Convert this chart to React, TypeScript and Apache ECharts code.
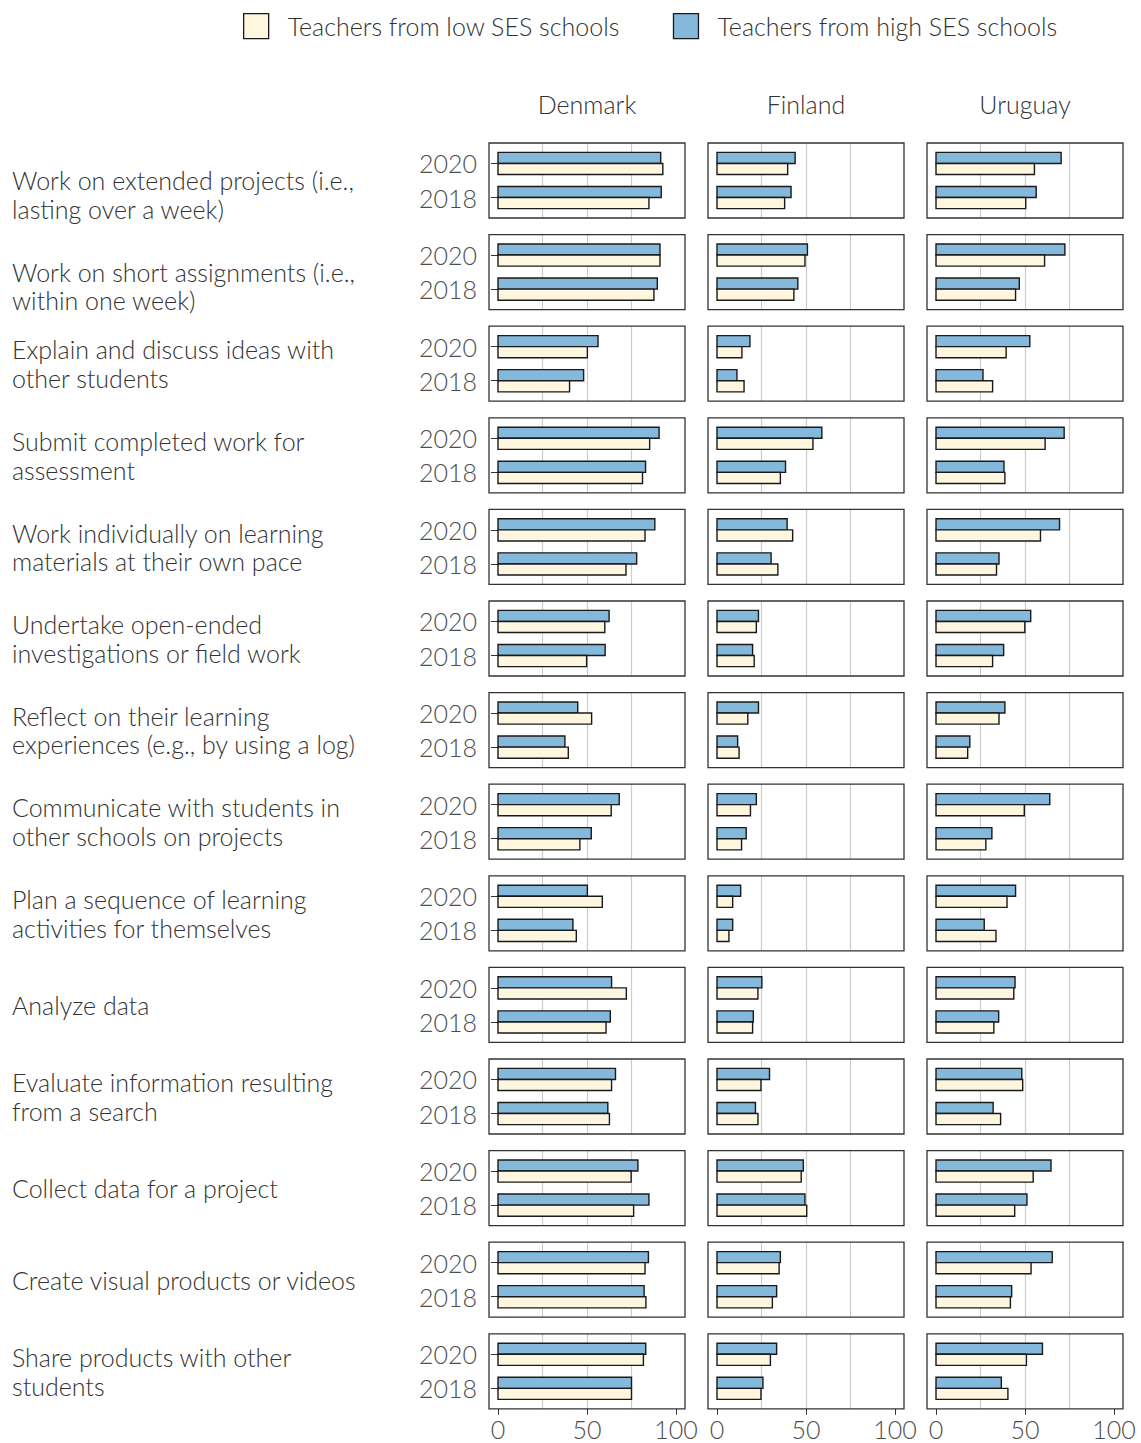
import React, { useEffect, useRef } from "react";
import * as echarts from "echarts";

const activities = [
  "Work on extended projects (i.e.,\nlasting over a week)",
  "Work on short assignments (i.e.,\nwithin one week)",
  "Explain and discuss ideas with\nother students",
  "Submit completed work for\nassessment",
  "Work individually on learning\nmaterials at their own pace",
  "Undertake open-ended\ninvestigations or field work",
  "Reflect on their learning\nexperiences (e.g., by using a log)",
  "Communicate with students in\nother schools on projects",
  "Plan a sequence of learning\nactivities for themselves",
  "Analyze data",
  "Evaluate information resulting\nfrom a search",
  "Collect data for a project",
  "Create visual products or videos",
  "Share products with other\nstudents",
];
const countries = ["Denmark", "Finland", "Uruguay"];
const yearLabels = ["2018", "2020"];
const xMin = 0;
const xMax = 100;
const xTickStep = 50;
const LOW = "Teachers from low SES schools";
const HIGH = "Teachers from high SES schools";

const denmarkHigh2020 = [91.4, 91, 56.2, 90.5, 88.1, 62.4, 44.8, 68.1, 50.2, 63.8, 66, 78.6, 84.5, 83];
const denmarkLow2020 = [92.6, 91, 50.2, 85.2, 82.6, 60, 52.6, 63.6, 58.6, 72.1, 63.8, 74.8, 82.6, 81.7];
const denmarkHigh2018 = [91.7, 89.5, 48.1, 82.9, 77.9, 60.2, 37.6, 52.4, 42.1, 63.1, 61.7, 84.8, 82.1, 75];
const denmarkLow2018 = [84.8, 87.6, 40.2, 81.2, 71.9, 49.8, 39.5, 46, 44, 60.7, 62.6, 76.2, 83.1, 75];

const finlandHigh2020 = [43.9, 50.8, 18.5, 58.9, 39.4, 23.3, 23.3, 22.1, 13.3, 25.2, 29.5, 48.5, 35.6, 33.5];
const finlandLow2020 = [39.7, 49.4, 14, 53.9, 42.5, 22.1, 17.3, 18.8, 8.8, 23, 24.7, 47.3, 34.9, 30];
const finlandHigh2018 = [41.6, 45.4, 11.2, 38.5, 30.4, 20, 11.6, 16.4, 8.8, 20.4, 21.6, 49.4, 33.5, 25.8];
const finlandLow2018 = [38, 43.2, 15.2, 35.6, 34.2, 20.9, 12.4, 13.8, 6.7, 20, 23, 50.4, 31.1, 24.7];

const uruguayHigh2020 = [70.3, 72.4, 52.7, 72, 69.4, 53.2, 38.7, 63.9, 44.7, 44.4, 48.2, 64.6, 65.3, 59.8];
const uruguayLow2020 = [55.3, 61, 39.4, 61.3, 58.7, 49.9, 35.4, 49.6, 39.9, 43.7, 48.7, 54.6, 53.4, 50.8];
const uruguayHigh2018 = [56.3, 46.8, 26.4, 38.2, 35.4, 38, 19, 31.4, 27.1, 35.2, 32.1, 51.1, 42.5, 36.7];
const uruguayLow2018 = [50.4, 44.7, 31.8, 38.7, 34, 31.8, 17.8, 28, 33.7, 32.5, 36.3, 44.2, 41.8, 40.4];

const seriesByCountry = [
  { high: [denmarkHigh2018, denmarkHigh2020], low: [denmarkLow2018, denmarkLow2020] },
  { high: [finlandHigh2018, finlandHigh2020], low: [finlandLow2018, finlandLow2020] },
  { high: [uruguayHigh2018, uruguayHigh2020], low: [uruguayLow2018, uruguayLow2020] },
];

const HIGH_COLOR = "#85b9db";
const LOW_COLOR = "#fff6e0";
const FONT = "Lato";
const FONT_SIZE = 25;
const TEXT_COLOR = "#333333";
const AXIS_TEXT = "#4d4d4d";
const GRID_COLOR = "#cccccc";
const BAR_STROKE = "#1a1a1a";

// layout
const COL_LEFT = [489, 708, 927];
const PANEL_W = 196;
const INNER_PAD = 9;
const ROW_TOP = 143;
const ROW_STEP = 91.6;
const PANEL_H = 75;
const BAR_W = 0.325;

export default function App() {
  const ref = useRef<HTMLDivElement>(null);

  useEffect(() => {
    if (!ref.current) return;
    const chart = echarts.init(ref.current, null, { renderer: "svg" });

    const grids: any[] = [];
    const xAxes: any[] = [];
    const yAxes: any[] = [];
    const series: any[] = [];
    const graphics: any[] = [];

    const nRows = activities.length;

    activities.forEach((label, r) => {
      const top = ROW_TOP + r * ROW_STEP;
      const isBottom = r === nRows - 1;
      countries.forEach((country, c) => {
        const left = COL_LEFT[c];
        // frame grid
        const frameIdx = grids.length;
        grids.push({
          left,
          top,
          width: PANEL_W,
          height: PANEL_H,
          show: true,
          borderColor: "#333333",
          borderWidth: 1.3,
          backgroundColor: "transparent",
          z: 3,
        });
        xAxes.push({ gridIndex: frameIdx, type: "value", min: 0, max: 1, show: false });
        yAxes.push({ gridIndex: frameIdx, type: "value", min: 0, max: 1, show: false });

        // inner grid (0..100)
        const gi = grids.length;
        grids.push({
          left: left + INNER_PAD,
          top,
          width: PANEL_W - 2 * INNER_PAD,
          height: PANEL_H,
          show: false,
        });
        xAxes.push({
          gridIndex: gi,
          type: "value",
          min: xMin,
          max: xMax,
          interval: xTickStep,
          axisLine: { show: false },
          axisTick: {
            show: isBottom,
            length: 6,
            lineStyle: { color: "#333333", width: 1 },
          },
          axisLabel: {
            show: isBottom,
            fontFamily: FONT,
            fontWeight: 300,
            fontSize: FONT_SIZE,
            color: AXIS_TEXT,
            margin: 8,
          },
          splitLine: {
            show: true,
            showMinLine: false,
            showMaxLine: false,
            lineStyle: { color: GRID_COLOR, width: 1.2 },
          },
          minorTick: { show: false, splitNumber: 2 },
          minorSplitLine: {
            show: true,
            lineStyle: { color: GRID_COLOR, width: 1.2 },
          },
        });
        yAxes.push({
          gridIndex: gi,
          type: "value",
          min: 0.4,
          max: 2.6,
          offset: INNER_PAD,
          axisLine: { show: false },
          splitLine: { show: false },
          axisTick: {
            show: c === 0,
            length: 7,
            customValues: [1, 2],
            lineStyle: { color: "#333333", width: 1 },
          },
          axisLabel: {
            show: c === 0,
            customValues: [1, 2],
            formatter: (v: number) => yearLabels[Math.round(v) - 1] ?? "",
            fontFamily: FONT,
            fontWeight: 300,
            fontSize: FONT_SIZE,
            color: AXIS_TEXT,
            margin: 12,
          },
        });

        const axisIndex = xAxes.length - 1;
        const groups = [
          { name: HIGH, color: HIGH_COLOR, dir: 1, vals: seriesByCountry[c].high },
          { name: LOW, color: LOW_COLOR, dir: -1, vals: seriesByCountry[c].low },
        ];
        groups.forEach((g) => {
          const data = yearLabels.map((_, yi) => [g.vals[yi][r], yi + 1, g.dir]);
          series.push({
            type: "custom",
            name: g.name,
            xAxisIndex: axisIndex,
            yAxisIndex: axisIndex,
            itemStyle: { color: g.color, borderColor: BAR_STROKE, borderWidth: 1.4 },
            data,
            z: 2,
            renderItem: (_params: any, api: any) => {
              const v = api.value(0);
              const pos = api.value(1);
              const dir = api.value(2);
              const p0 = api.coord([0, pos]);
              const p1 = api.coord([v, pos + dir * BAR_W]);
              return {
                type: "rect",
                shape: {
                  x: p0[0],
                  y: Math.min(p0[1], p1[1]),
                  width: p1[0] - p0[0],
                  height: Math.abs(p1[1] - p0[1]),
                },
                style: { fill: g.color, stroke: BAR_STROKE, lineWidth: 1.4 },
              };
            },
          });
        });

        if (r === 0) {
          graphics.push({
            type: "text",
            x: left + PANEL_W / 2,
            y: 104,
            style: {
              text: country,
              font: `300 ${FONT_SIZE}px ${FONT}`,
              fill: TEXT_COLOR,
              textAlign: "center",
              textVerticalAlign: "middle",
            },
          });
        }
      });

      graphics.push({
        type: "text",
        x: 12,
        y: top + PANEL_H / 2 + (r < 2 ? 14 : 0),
        style: {
          text: label,
          font: `300 ${FONT_SIZE}px ${FONT}`,
          lineHeight: 28.5,
          fill: TEXT_COLOR,
          textAlign: "left",
          textVerticalAlign: "middle",
        },
      });
    });

    chart.setOption({
      animation: false,
      backgroundColor: "#ffffff",
      grid: grids,
      xAxis: xAxes,
      yAxis: yAxes,
      series,
      graphic: graphics,
      legend: {
        left: 243,
        top: 13,
        padding: 0,
        itemWidth: 25,
        itemHeight: 25,
        itemGap: 53,
        selectedMode: false,
        textStyle: {
          fontFamily: FONT,
          fontWeight: 300,
          fontSize: FONT_SIZE,
          color: TEXT_COLOR,
          padding: [0, 0, 0, 14],
        },
        data: [
          { name: LOW, icon: "rect", itemStyle: { color: LOW_COLOR, borderColor: BAR_STROKE, borderWidth: 1.3 } },
          { name: HIGH, icon: "rect", itemStyle: { color: HIGH_COLOR, borderColor: BAR_STROKE, borderWidth: 1.3 } },
        ],
      },
    });

    return () => chart.dispose();
  }, []);

  return (
    <div
      ref={ref}
      style={{ position: "absolute", left: 0, top: 0, width: 1141, height: 1443 }}
    />
  );
}
